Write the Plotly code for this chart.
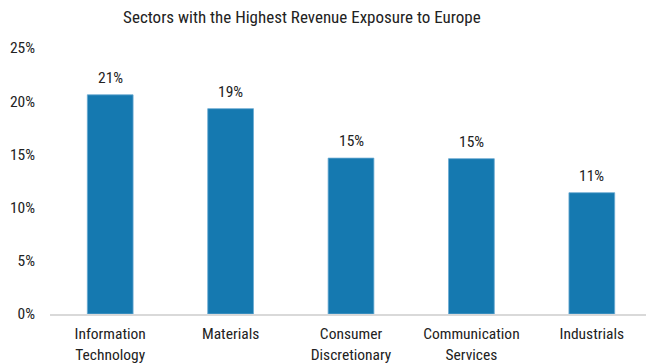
import plotly.graph_objects as go

# Sector revenue exposure to Europe (share of revenue)
sectors = ["Information<br>Technology", "Materials", "Consumer<br>Discretionary",
           "Communication<br>Services", "Industrials"]
exposure = [0.206, 0.193, 0.1465, 0.146, 0.114]

y_ticks = [0, 0.05, 0.10, 0.15, 0.20, 0.25]
y_tick_labels = ["0%", "5%", "10%", "15%", "20%", "25%"]

FONT = "Roboto Condensed, Liberation Sans Narrow, Roboto, sans-serif"
BAR = "#1579b0"
TXT = "#222222"

fig = go.Figure(
    go.Bar(
        x=sectors,
        y=exposure,
        width=0.38,
        marker=dict(color=BAR, line=dict(color="#6aa9d2", width=0.8)),
        hoverinfo="skip",
    )
)

# value labels above each bar
for s, v in zip(sectors, exposure):
    fig.add_annotation(
        x=s, y=v, text=f"{v:.0%}", showarrow=False,
        yanchor="bottom", yshift=6,
        font=dict(family=FONT, size=15.5, color=TXT),
    )

fig.update_layout(
    width=646,
    height=363,
    margin=dict(l=50, r=0, t=48, b=49),
    paper_bgcolor="white",
    plot_bgcolor="white",
    showlegend=False,
    font=dict(family=FONT, size=15.5, color=TXT),
    title=dict(
        text="Sectors with the Highest Revenue Exposure to Europe",
        x=273 / 646, xanchor="center", xref="paper",
        y=1 - 17 / 363, yanchor="middle",
        font=dict(family=FONT, size=17, color=TXT),
    ),
    xaxis=dict(
        range=[-0.5, 4.45],
        showgrid=False,
        showline=True,
        linecolor="#d9d9d9",
        linewidth=1.5,
        ticks="",
        tickfont=dict(family=FONT, size=15.5, color=TXT),
        ticklabelstandoff=5,
    ),
    yaxis=dict(
        range=[0, 0.25],
        tickvals=y_ticks,
        ticktext=y_tick_labels,
        showgrid=False,
        zeroline=False,
        showline=False,
        ticks="",
        ticklabelstandoff=14,
        tickfont=dict(family=FONT, size=15.5, color=TXT),
    ),
)

fig.write_html("out.html")
